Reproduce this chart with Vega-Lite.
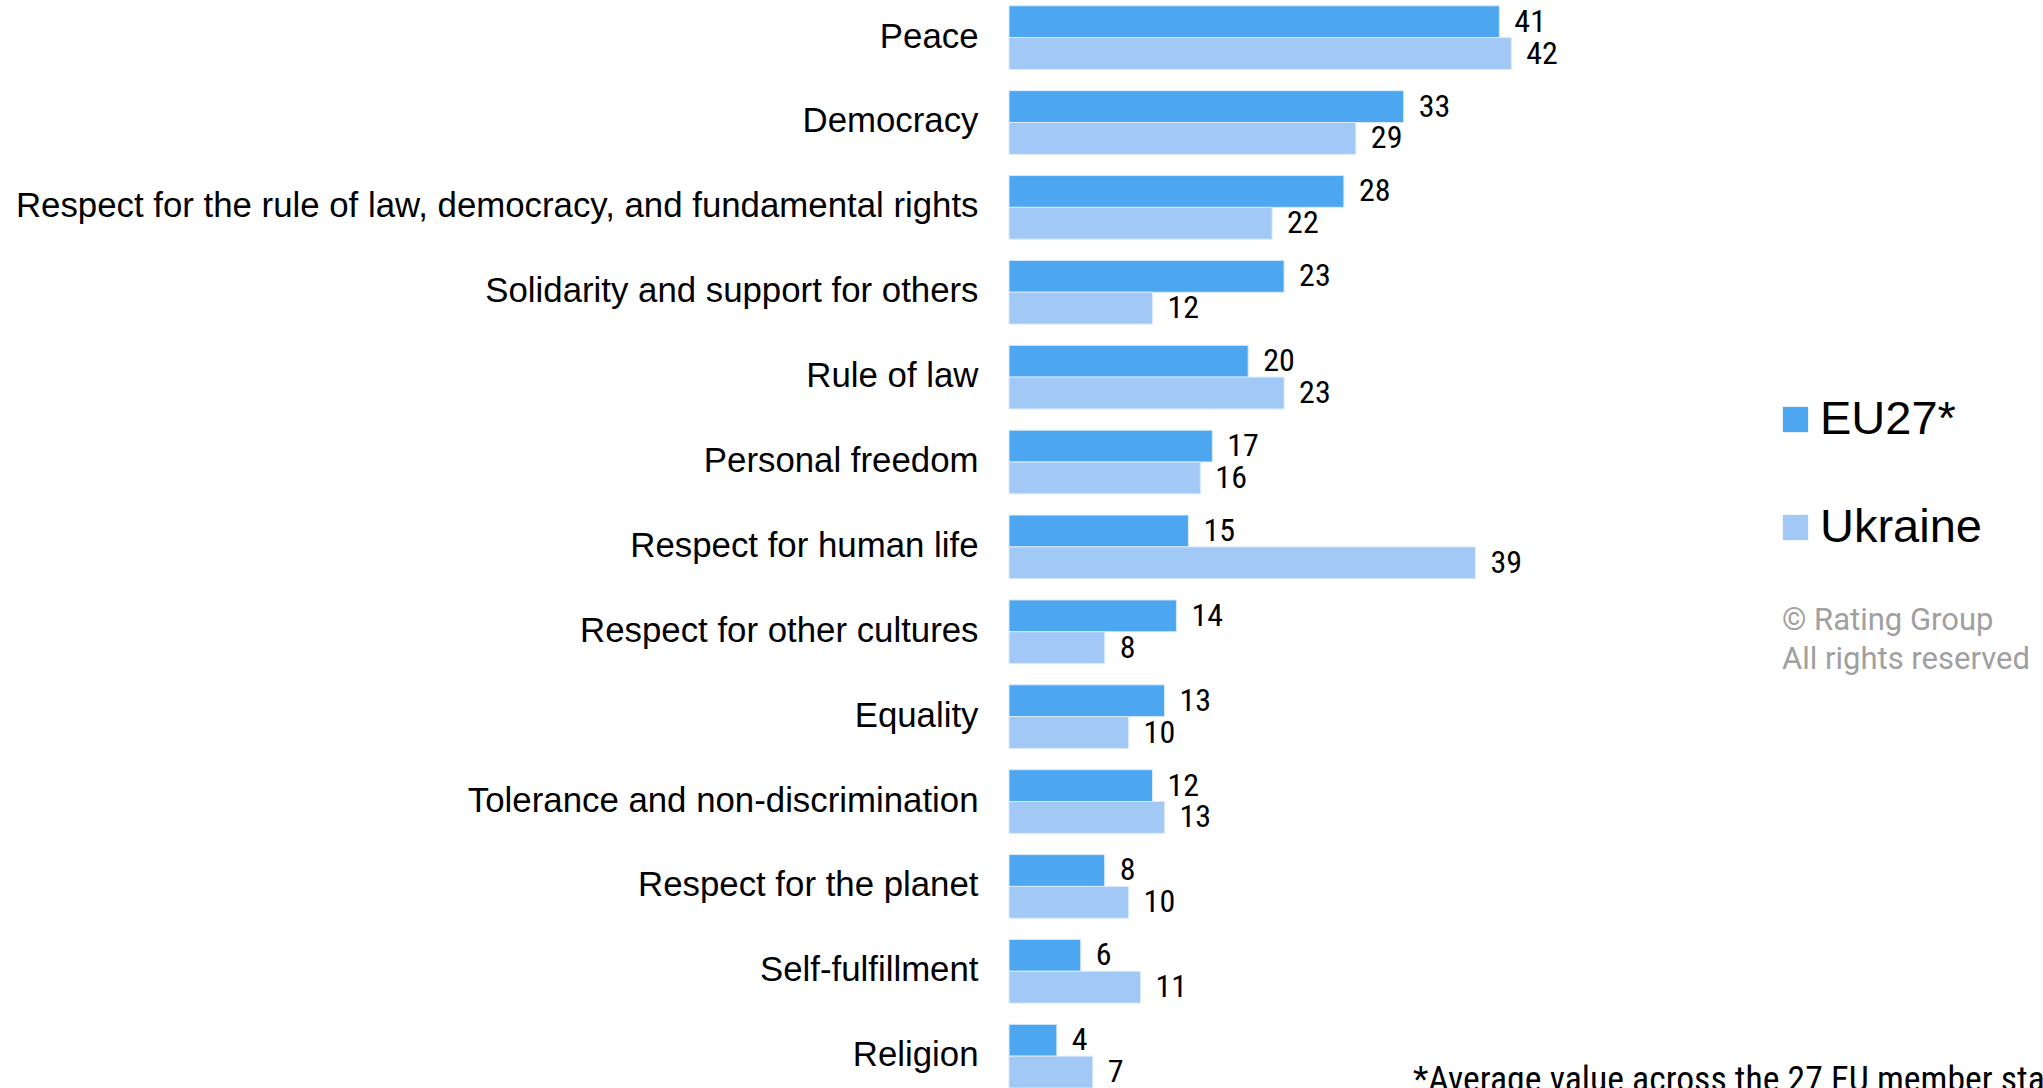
{
  "$schema": "https://vega.github.io/schema/vega-lite/v6.json",
  "autosize": {"type": "none"},
  "padding": {"left": 1009, "right": 436, "top": 0, "bottom": 0},
  "width": 598,
  "height": 1088,
  "background": "white",
  "config": {"view": {"stroke": null}},
  "title": {
    "text": "*Average value across the 27 EU member states",
    "orient": "bottom",
    "anchor": "start",
    "frame": "group",
    "offset": 2,
    "dx": 404,
    "baseline": "alphabetic",
    "font": "Roboto Condensed, Liberation Sans Narrow, DejaVu Sans Condensed, sans-serif",
    "fontSize": 35.7,
    "fontWeight": "normal",
    "color": "#000000"
  },
  "data": {
    "values": [
      {"value_name": "Peace", "series": "EU27*", "value": 41},
      {"value_name": "Peace", "series": "Ukraine", "value": 42},
      {"value_name": "Democracy", "series": "EU27*", "value": 33},
      {"value_name": "Democracy", "series": "Ukraine", "value": 29},
      {"value_name": "Respect for the rule of law, democracy, and fundamental rights", "series": "EU27*", "value": 28},
      {"value_name": "Respect for the rule of law, democracy, and fundamental rights", "series": "Ukraine", "value": 22},
      {"value_name": "Solidarity and support for others", "series": "EU27*", "value": 23},
      {"value_name": "Solidarity and support for others", "series": "Ukraine", "value": 12},
      {"value_name": "Rule of law", "series": "EU27*", "value": 20},
      {"value_name": "Rule of law", "series": "Ukraine", "value": 23},
      {"value_name": "Personal freedom", "series": "EU27*", "value": 17},
      {"value_name": "Personal freedom", "series": "Ukraine", "value": 16},
      {"value_name": "Respect for human life", "series": "EU27*", "value": 15},
      {"value_name": "Respect for human life", "series": "Ukraine", "value": 39},
      {"value_name": "Respect for other cultures", "series": "EU27*", "value": 14},
      {"value_name": "Respect for other cultures", "series": "Ukraine", "value": 8},
      {"value_name": "Equality", "series": "EU27*", "value": 13},
      {"value_name": "Equality", "series": "Ukraine", "value": 10},
      {"value_name": "Tolerance and non-discrimination", "series": "EU27*", "value": 12},
      {"value_name": "Tolerance and non-discrimination", "series": "Ukraine", "value": 13},
      {"value_name": "Respect for the planet", "series": "EU27*", "value": 8},
      {"value_name": "Respect for the planet", "series": "Ukraine", "value": 10},
      {"value_name": "Self-fulfillment", "series": "EU27*", "value": 6},
      {"value_name": "Self-fulfillment", "series": "Ukraine", "value": 11},
      {"value_name": "Religion", "series": "EU27*", "value": 4},
      {"value_name": "Religion", "series": "Ukraine", "value": 7}
    ]
  },
  "encoding": {
    "y": {
      "field": "value_name",
      "type": "nominal",
      "sort": null,
      "scale": {"paddingInner": 0.25, "paddingOuter": 0.034, "align": 1},
      "axis": {
        "title": null,
        "ticks": false,
        "domain": false,
        "labelFont": "Liberation Sans, Arial, sans-serif",
        "labelFontSize": 34.8,
        "labelColor": "#000000",
        "labelPadding": 31,
        "labelLimit": 0
      }
    },
    "yOffset": {"field": "series", "type": "nominal", "sort": ["EU27*", "Ukraine"]},
    "x": {
      "field": "value",
      "type": "quantitative",
      "scale": {"domain": [0, 50], "nice": false},
      "axis": null
    }
  },
  "layer": [
    {
      "mark": {"type": "bar", "stroke": "#d9eafc", "strokeWidth": 1},
      "encoding": {
        "color": {
          "field": "series",
          "type": "nominal",
          "scale": {"domain": ["EU27*", "Ukraine"], "range": ["#4da7f0", "#a2c9f6"]},
          "legend": {
            "orient": "none",
            "legendX": 773,
            "legendY": 396,
            "padding": 0,
            "title": ["© Rating Group", "All rights reserved"],
            "titleOrient": "bottom",
            "titleAnchor": "start",
            "titleFont": "Roboto, sans-serif",
            "titleFontSize": 31,
            "titleFontWeight": "normal",
            "titleColor": "#a0a0a0",
            "titleLineHeight": 39,
            "titlePadding": 55,
            "titleLimit": 0,
            "symbolType": "square",
            "symbolSize": 640,
            "symbolStrokeWidth": 0,
            "symbolOffset": -10,
            "labelFont": "Liberation Sans, Arial, sans-serif",
            "labelFontSize": 47,
            "labelColor": "#000000",
            "labelOffset": 1,
            "labelLimit": 0,
            "rowPadding": 60
          }
        }
      }
    },
    {
      "mark": {
        "type": "text",
        "align": "left",
        "baseline": "middle",
        "dx": 15,
        "font": "Roboto Condensed, Liberation Sans Narrow, DejaVu Sans Condensed, sans-serif",
        "fontSize": 32,
        "color": "#000000"
      },
      "encoding": {
        "text": {"field": "value", "type": "quantitative"}
      }
    }
  ]
}
